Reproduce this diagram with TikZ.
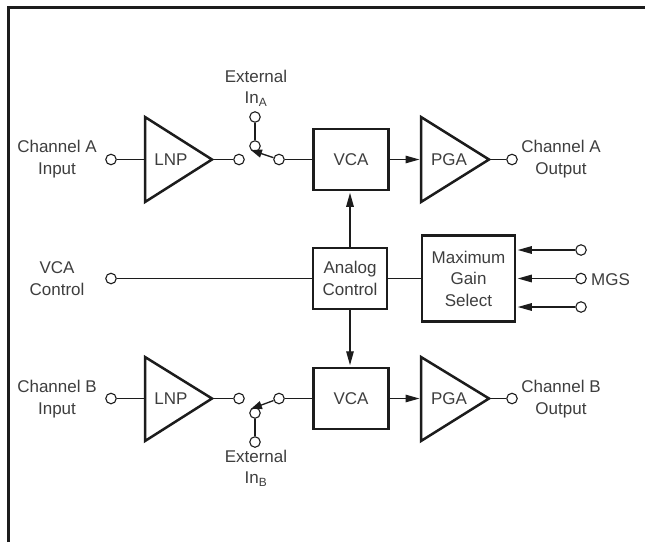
\documentclass[tikz,border=0pt]{standalone}
\usepackage{fontspec}
\setmainfont{Liberation Sans}
\usetikzlibrary{arrows.meta}
\definecolor{ink}{HTML}{1C1C1C}
\tikzset{
  x=1pt,y=-1pt,
  every node/.style={font=\fontsize{17}{21.5}\selectfont,text=ink!85!white,inner sep=0pt,align=center},
  blockbox/.style={draw=ink,line width=2.5pt,fill=white,minimum width=#1,anchor=center},
  amp/.style={draw=ink,line width=2.5pt,line join=miter,fill=white},
  wire/.style={draw=ink,line width=1.3pt},
  arrowwire/.style={wire,-{Triangle[length=14pt,width=7.5pt]},shorten >=1.5pt},
  switcharm/.style={wire,-{Triangle[length=11pt,width=8pt]}},
  term/.style={circle,draw=ink,line width=1.1pt,fill=white,minimum size=10.5pt},
  frameline/.style={draw=ink,line width=3pt,line cap=butt}
}
\begin{document}
\begin{tikzpicture}
\useasboundingbox (0,0) rectangle (645,542);
\fill[white] (0,0) rectangle (645,542);
\coordinate (fa) at (8.5,542); \coordinate (fb) at (8.5,7.5); \coordinate (fc) at (645,7.5);
\draw[frameline] (fa) -- (fb) -- (fc);
% channel A
\coordinate (lnpAin) at (145,159.5); \coordinate (lnpAout) at (212,159.5);
\coordinate (pgaAin) at (421,159.5); \coordinate (pgaAout) at (489,159.5);
\node[term] (inA) at (111,159.5) {};
\node[term] (lA) at (239,159.5) {};
\node[term] (rA) at (279,159.5) {};
\node[term] (pA) at (255,146) {};
\node[term] (xA) at (255,117) {};
\node[term] (outA) at (512,159.5) {};
\node[blockbox=75pt,minimum height=61pt] (vcaA) at (351,159.5) {VCA};
\draw[wire] (inA) -- (lnpAin);
\draw[wire] (lnpAout) -- (lA);
\draw[wire] (rA) -- (vcaA);
\draw[wire] (xA) -- (pA);
\draw[switcharm] (rA) -- (pA.south west);
\draw[arrowwire] (vcaA) -- (pgaAin);
\draw[wire] (pgaAout) -- (outA);
\draw[amp] (145,117) -- (212,159.5) -- (145,202) -- cycle;
\node (lnpA) at (171,159.5) {LNP};
\draw[amp] (421,117) -- (489,159.5) -- (421,202) -- cycle;
\node (pgaA) at (449,159.5) {PGA};
% channel B
\coordinate (lnpBin) at (145,398.5); \coordinate (lnpBout) at (212,398.5);
\coordinate (pgaBin) at (421,398.5); \coordinate (pgaBout) at (489,398.5);
\node[term] (inB) at (111,398.5) {};
\node[term] (lB) at (239,398.5) {};
\node[term] (rB) at (279,398.5) {};
\node[term] (pB) at (255,413) {};
\node[term] (xB) at (255,442) {};
\node[term] (outB) at (512,398.5) {};
\node[blockbox=75pt,minimum height=61pt] (vcaB) at (351,398.5) {VCA};
\draw[wire] (inB) -- (lnpBin);
\draw[wire] (lnpBout) -- (lB);
\draw[wire] (rB) -- (vcaB);
\draw[wire] (xB) -- (pB);
\draw[switcharm] (rB) -- (pB.north west);
\draw[arrowwire] (vcaB) -- (pgaBin);
\draw[wire] (pgaBout) -- (outB);
\draw[amp] (145,357) -- (212,398.5) -- (145,441) -- cycle;
\node (lnpB) at (171,399) {LNP};
\draw[amp] (421,357) -- (489,398.5) -- (421,441) -- cycle;
\node (pgaB) at (449,399) {PGA};
% centre
\node[blockbox=74pt,minimum height=61pt] (ctl) at (350,278.5) {Analog\\Control};
\node[blockbox=93pt,minimum height=86pt] (mgs) at (468.5,278.5) {Maximum\\Gain\\Select};
\node[term] (vc) at (111,278.5) {};
\draw[wire] (vc) -- (ctl);
\draw[wire] (ctl) -- (mgs);
\draw[arrowwire] (ctl.north) -- (vcaA.south -| ctl.north);
\draw[arrowwire] (ctl.south) -- (vcaB.north -| ctl.south);
\node[term] (g1) at (581,250) {};
\node[term] (g2) at (581,278.5) {};
\node[term] (g3) at (581,307) {};
\draw[arrowwire] (g1) -- (mgs.east |- g1);
\draw[arrowwire] (g2) -- (mgs.east |- g2);
\draw[arrowwire] (g3) -- (mgs.east |- g3);
% labels
\node (tCA) at (57,159) {Channel A\\Input};
\node (tCB) at (57,399) {Channel B\\Input};
\node (tVC) at (57,278.5) {VCA\\Control};
\node (tOA) at (561,159) {Channel A\\Output};
\node (tOB) at (561,399) {Channel B\\Output};
\node[anchor=west] (tM) at (591,280) {MGS};
\node (tEA) at (256,88) {External\\In\textsubscript{A}};
\node (tEB) at (256,468) {External\\In\textsubscript{B}};
\end{tikzpicture}
\end{document}
